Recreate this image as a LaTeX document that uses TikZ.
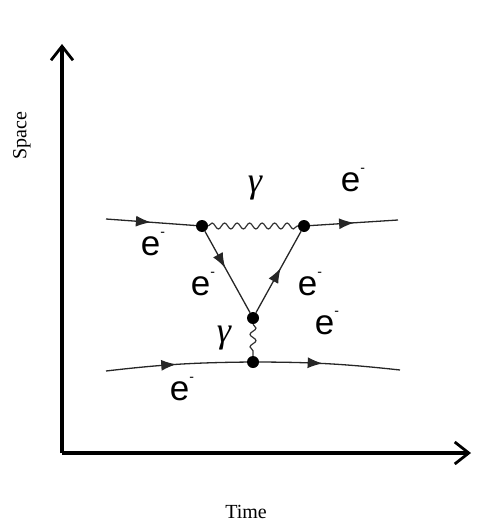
\documentclass[tikz,border=0pt]{standalone}
\usepackage{fontspec}
\setmainfont{Liberation Serif}
\newfontfamily\arialfont{Liberation Sans}
\usetikzlibrary{arrows.meta,decorations.pathmorphing,decorations.markings}
\tikzset{
  axis/.style={line width=3.2pt,-{Straight Barb[length=14pt,width=22pt,line width=2.8pt]}},
  fermion/.style={line width=1.3pt,draw=black!85,postaction={decorate},
    decoration={markings,mark=at position #1 with {\arrow{Latex[length=15pt,width=11pt]}}}},
  fermion/.default=0.5,
  photon/.style={line width=1.2pt,draw=black!80,decorate,decoration={snake,amplitude=3pt,segment length=12.5pt}},
  vtx/.style={circle,fill=black,inner sep=0pt,minimum size=12pt},
  elab/.style={font=\arialfont\fontsize{35}{35}\selectfont,inner sep=0pt},
  glab/.style={font=\itshape\fontsize{36}{36}\selectfont,inner sep=0pt},
  axlab/.style={font=\fontsize{20}{20}\selectfont,inner sep=0pt}
}
\newcommand{\elec}{e\raisebox{0.55em}{\fontsize{14}{14}\selectfont-}}
\begin{document}
\begin{tikzpicture}[x=1pt,y=-1pt]
\useasboundingbox (0,0) rectangle (498,527);
% axes
\coordinate (O) at (62,453);
\coordinate (ytop) at (62,44);
\coordinate (xend) at (471,453);
\draw[axis] (O) -- (ytop);
\draw[axis] (O) -- (xend);
\node[axlab,rotate=90] (space) at (22,136) {Space};
\node[axlab] (time) at (246,512) {Time};
% vertices
\node[vtx] (v1) at (202,226) {};
\node[vtx] (v2) at (304,226) {};
\node[vtx] (v3) at (253,318) {};
\node[vtx] (v4) at (253,362) {};
\coordinate (inA) at (106,219);
\coordinate (outA) at (398,220);
\coordinate (inB) at (106,371);
\coordinate (outB) at (400,370);
% lines
\draw[fermion=0.5] (inA) -- (v1);
\draw[fermion=0.5] (v2) -- (outA);
\draw[photon] (v1) -- (v2);
\draw[fermion=0.45] (v1) -- (v3);
\draw[fermion=0.55] (v3) -- (v2);
\draw[photon] (v3) -- (v4);
\draw[fermion=0.5] (inB) to[bend left=3] (v4);
\draw[fermion=0.45] (v4) to[bend left=3] (outB);
% labels
\node[glab] (g1) at (255,188) {γ};
\node[glab] (g2) at (224,338) {γ};
\node[elab] (e1) at (353,180) {\elec};
\node[elab] (e2) at (153,244) {\elec};
\node[elab] (e3) at (203,284) {\elec};
\node[elab] (e4) at (310,284) {\elec};
\node[elab] (e5) at (327,323) {\elec};
\node[elab] (e6) at (182,389) {\elec};
\end{tikzpicture}
\end{document}
